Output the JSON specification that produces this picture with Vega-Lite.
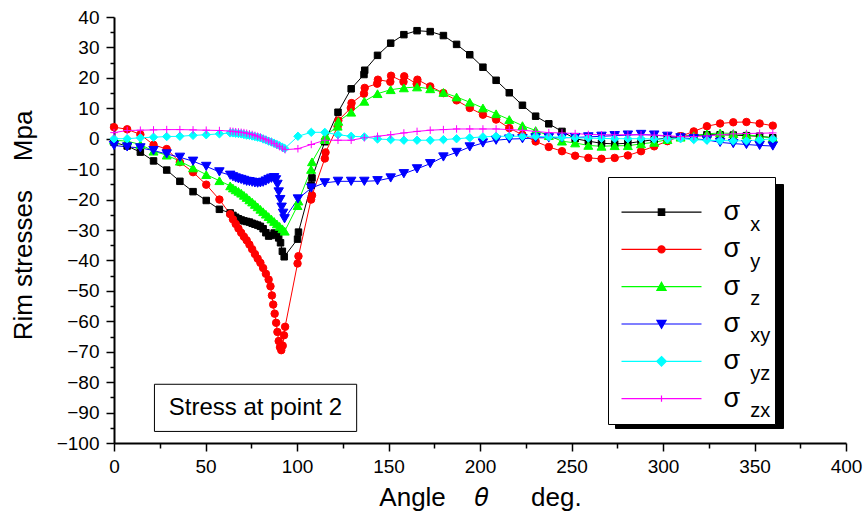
{
  "$schema": "https://vega.github.io/schema/vega-lite/v6.json",
  "width": 732,
  "height": 426,
  "autosize": {"type": "none"},
  "padding": {"left": 114, "top": 17, "right": 18, "bottom": 78},
  "background": "white",
  "config": {"view": {"stroke": null}},
  "resolve": {"scale": {"shape": "independent", "fill": "independent", "stroke": "independent", "strokeDash": "independent"}, "axis": {"x": "independent", "y": "independent"}},
  "datasets": {
    "keys": [{"k": "x"}, {"k": "y"}, {"k": "z"}, {"k": "xy"}, {"k": "yz"}, {"k": "zx"}],
    "pts": [
      {"s":"x","a":0,"v":-1.2},{"s":"x","a":7.2,"v":-2.4},{"s":"x","a":14.4,"v":-4.4},{"s":"x","a":21.6,"v":-7.3},{"s":"x","a":28.8,"v":-10.3},{"s":"x","a":36,"v":-14},{"s":"x","a":43.2,"v":-17.4},{"s":"x","a":50.4,"v":-20.3},{"s":"x","a":57.6,"v":-23.2},
      {"s":"x","a":63.5,"v":-24.4},{"s":"x","a":65,"v":-25.2},{"s":"x","a":66.5,"v":-25.8},{"s":"x","a":68,"v":-26.3},{"s":"x","a":69.5,"v":-26.7},{"s":"x","a":71,"v":-27},{"s":"x","a":72.5,"v":-27.2},{"s":"x","a":74,"v":-27.4},{"s":"x","a":75.5,"v":-27.8},{"s":"x","a":77,"v":-28.1},{"s":"x","a":78.5,"v":-28.4},{"s":"x","a":80,"v":-28.8},{"s":"x","a":81.5,"v":-29.6},{"s":"x","a":83,"v":-30.9},{"s":"x","a":84.5,"v":-32},{"s":"x","a":86,"v":-31.8},{"s":"x","a":87.5,"v":-31},{"s":"x","a":89,"v":-31.2},{"s":"x","a":90,"v":-32.6},{"s":"x","a":91,"v":-34.2},{"s":"x","a":92,"v":-37},{"s":"x","a":93,"v":-38.8},
      {"s":"x","a":100.3,"v":-33},{"s":"x","a":100.8,"v":-30.7},{"s":"x","a":107.7,"v":-15.3},{"s":"x","a":108.2,"v":-12.9},{"s":"x","a":115.2,"v":-1},{"s":"x","a":122.4,"v":8.7},{"s":"x","a":129.6,"v":16.4},{"s":"x","a":136.6,"v":21.1},{"s":"x","a":137,"v":22.5},{"s":"x","a":144,"v":27.4},{"s":"x","a":151.2,"v":31.4},{"s":"x","a":158.4,"v":34.2},{"s":"x","a":165.6,"v":35.5},{"s":"x","a":172.8,"v":35.2},{"s":"x","a":180,"v":33.9},{"s":"x","a":187.2,"v":31},{"s":"x","a":194.4,"v":27.6},{"s":"x","a":201.6,"v":23.5},{"s":"x","a":208.8,"v":19.2},{"s":"x","a":216,"v":15.1},{"s":"x","a":223.2,"v":11},{"s":"x","a":230.4,"v":7.4},{"s":"x","a":237.6,"v":4.9},{"s":"x","a":244.8,"v":2.4},{"s":"x","a":252,"v":0},{"s":"x","a":259.2,"v":-0.8},{"s":"x","a":266.4,"v":-1.5},{"s":"x","a":273.6,"v":-1.7},{"s":"x","a":280.8,"v":-1.5},{"s":"x","a":288,"v":-0.9},{"s":"x","a":295.2,"v":-0.3},{"s":"x","a":302.4,"v":0.3},{"s":"x","a":309.6,"v":0.8},{"s":"x","a":316.8,"v":1},{"s":"x","a":324,"v":1.3},{"s":"x","a":331.2,"v":1.3},{"s":"x","a":338.4,"v":1.2},{"s":"x","a":345.6,"v":1},{"s":"x","a":352.8,"v":0.8},{"s":"x","a":360,"v":0.3},

      {"s":"y","a":0,"v":3.8},{"s":"y","a":7.2,"v":3.1},{"s":"y","a":14.4,"v":1.4},{"s":"y","a":21.6,"v":-2},{"s":"y","a":28.8,"v":-3.4},{"s":"y","a":36,"v":-7.7},{"s":"y","a":43.2,"v":-11},{"s":"y","a":50.4,"v":-15.1},{"s":"y","a":57.6,"v":-20},
      {"s":"y","a":63.5,"v":-24.8},{"s":"y","a":65,"v":-26.5},{"s":"y","a":66.5,"v":-28},{"s":"y","a":68,"v":-29.5},{"s":"y","a":69.5,"v":-30.9},{"s":"y","a":71,"v":-32.2},{"s":"y","a":72.5,"v":-33.4},{"s":"y","a":74,"v":-34.8},{"s":"y","a":75.5,"v":-36.3},{"s":"y","a":77,"v":-37.9},{"s":"y","a":78.5,"v":-39.4},{"s":"y","a":80,"v":-40.8},{"s":"y","a":81.5,"v":-42.5},{"s":"y","a":83,"v":-44.4},{"s":"y","a":84.5,"v":-46.3},{"s":"y","a":85.5,"v":-48.5},{"s":"y","a":86.3,"v":-51.5},{"s":"y","a":87,"v":-54.5},{"s":"y","a":87.8,"v":-57.5},{"s":"y","a":88.6,"v":-60.5},{"s":"y","a":89.3,"v":-63.5},{"s":"y","a":90,"v":-66.5},{"s":"y","a":90.7,"v":-68.5},{"s":"y","a":91.4,"v":-69.5},{"s":"y","a":92.2,"v":-68},{"s":"y","a":92.9,"v":-64.6},{"s":"y","a":93.5,"v":-61.8},
      {"s":"y","a":100.3,"v":-41},{"s":"y","a":100.8,"v":-38.6},{"s":"y","a":107.7,"v":-20},{"s":"y","a":108.2,"v":-18.6},{"s":"y","a":115.2,"v":-6.5},{"s":"y","a":115.6,"v":-4.5},{"s":"y","a":122.2,"v":4},{"s":"y","a":122.6,"v":6},{"s":"y","a":129.4,"v":10.1},{"s":"y","a":129.8,"v":11.7},{"s":"y","a":136.6,"v":14.8},{"s":"y","a":137,"v":16.7},{"s":"y","a":143.8,"v":18.1},{"s":"y","a":144.2,"v":19.4},{"s":"y","a":151,"v":18.7},{"s":"y","a":151.4,"v":20.7},{"s":"y","a":158.2,"v":18.7},{"s":"y","a":158.6,"v":20.5},{"s":"y","a":165.4,"v":18},{"s":"y","a":165.8,"v":19.4},{"s":"y","a":172.8,"v":17.2},{"s":"y","a":180,"v":15},{"s":"y","a":187.2,"v":12.6},{"s":"y","a":194.4,"v":10.1},{"s":"y","a":201.6,"v":7.9},{"s":"y","a":208.8,"v":6.3},{"s":"y","a":216,"v":3.5},{"s":"y","a":223.2,"v":1.3},{"s":"y","a":230.4,"v":-0.9},{"s":"y","a":237.6,"v":-2.7},{"s":"y","a":244.8,"v":-4.1},{"s":"y","a":252,"v":-5.6},{"s":"y","a":259.2,"v":-6.3},{"s":"y","a":266.4,"v":-6.6},{"s":"y","a":273.6,"v":-6.3},{"s":"y","a":280.8,"v":-5.5},{"s":"y","a":288,"v":-4.1},{"s":"y","a":295.2,"v":-2.5},{"s":"y","a":302.4,"v":-0.8},{"s":"y","a":309.6,"v":0.8},{"s":"y","a":316.8,"v":2.4},{"s":"y","a":324,"v":4.1},{"s":"y","a":331.2,"v":5},{"s":"y","a":338.4,"v":5.4},{"s":"y","a":345.6,"v":5.5},{"s":"y","a":352.8,"v":5},{"s":"y","a":360,"v":4.3},

      {"s":"z","a":0,"v":-0.5},{"s":"z","a":7.2,"v":-0.8},{"s":"z","a":14.4,"v":-1.9},{"s":"z","a":21.6,"v":-4.1},{"s":"z","a":28.8,"v":-5.4},{"s":"z","a":36,"v":-7.4},{"s":"z","a":43.2,"v":-9.6},{"s":"z","a":50.4,"v":-11.8},{"s":"z","a":57.6,"v":-13.8},
      {"s":"z","a":63.5,"v":-15.5},{"s":"z","a":65,"v":-16.2},{"s":"z","a":66.5,"v":-16.8},{"s":"z","a":68,"v":-17.3},{"s":"z","a":69.5,"v":-17.9},{"s":"z","a":71,"v":-18.6},{"s":"z","a":72.5,"v":-19.3},{"s":"z","a":74,"v":-20.1},{"s":"z","a":75.5,"v":-20.8},{"s":"z","a":77,"v":-21.6},{"s":"z","a":78.5,"v":-22.4},{"s":"z","a":80,"v":-23.2},{"s":"z","a":81.5,"v":-24},{"s":"z","a":83,"v":-24.8},{"s":"z","a":84.5,"v":-25.6},{"s":"z","a":86,"v":-26.4},{"s":"z","a":87.5,"v":-27.2},{"s":"z","a":89,"v":-28},{"s":"z","a":90.5,"v":-28.8},{"s":"z","a":92,"v":-29.6},{"s":"z","a":93.3,"v":-30.4},
      {"s":"z","a":100.3,"v":-22},{"s":"z","a":100.8,"v":-20.5},{"s":"z","a":107.7,"v":-10.1},{"s":"z","a":108.2,"v":-7.6},{"s":"z","a":115.2,"v":-0.3},{"s":"z","a":115.6,"v":1},{"s":"z","a":122.2,"v":4.1},{"s":"z","a":122.6,"v":5.7},{"s":"z","a":129.6,"v":8.7},{"s":"z","a":136.8,"v":12.3},{"s":"z","a":144,"v":14.8},{"s":"z","a":151.2,"v":16.1},{"s":"z","a":158.4,"v":16.7},{"s":"z","a":165.6,"v":17},{"s":"z","a":172.8,"v":16.4},{"s":"z","a":180,"v":15.2},{"s":"z","a":187.2,"v":13.7},{"s":"z","a":194.4,"v":12},{"s":"z","a":201.6,"v":10.1},{"s":"z","a":208.8,"v":8.2},{"s":"z","a":216,"v":6.3},{"s":"z","a":223.2,"v":4.3},{"s":"z","a":230.4,"v":2.7},{"s":"z","a":237.6,"v":1},{"s":"z","a":244.8,"v":-0.8},{"s":"z","a":252,"v":-1.4},{"s":"z","a":259.2,"v":-2.2},{"s":"z","a":266.4,"v":-2.5},{"s":"z","a":273.6,"v":-2.3},{"s":"z","a":280.8,"v":-2.3},{"s":"z","a":288,"v":-1.7},{"s":"z","a":295.2,"v":-1.2},{"s":"z","a":302.4,"v":-0.3},{"s":"z","a":309.6,"v":0.5},{"s":"z","a":316.8,"v":1},{"s":"z","a":324,"v":1.6},{"s":"z","a":331.2,"v":1.9},{"s":"z","a":338.4,"v":1.7},{"s":"z","a":345.6,"v":1.3},{"s":"z","a":352.8,"v":0.8},{"s":"z","a":360,"v":0.3},

      {"s":"xy","a":0,"v":-2.2},{"s":"xy","a":7.2,"v":-2.7},{"s":"xy","a":14.4,"v":-3},{"s":"xy","a":21.6,"v":-3.9},{"s":"xy","a":28.8,"v":-5},{"s":"xy","a":36,"v":-6.1},{"s":"xy","a":43.2,"v":-7.4},{"s":"xy","a":50.4,"v":-9.1},{"s":"xy","a":57.6,"v":-10.9},
      {"s":"xy","a":63.5,"v":-12},{"s":"xy","a":65,"v":-12.5},{"s":"xy","a":66.5,"v":-12.9},{"s":"xy","a":68,"v":-13.2},{"s":"xy","a":69.5,"v":-13.4},{"s":"xy","a":71,"v":-13.7},{"s":"xy","a":72.5,"v":-14},{"s":"xy","a":74,"v":-14.1},{"s":"xy","a":75.5,"v":-14.3},{"s":"xy","a":77,"v":-14.5},{"s":"xy","a":78.5,"v":-14.6},{"s":"xy","a":80,"v":-14.5},{"s":"xy","a":81.5,"v":-14.3},{"s":"xy","a":83,"v":-13.9},{"s":"xy","a":84.5,"v":-13.4},{"s":"xy","a":86,"v":-13},{"s":"xy","a":87.5,"v":-12.8},{"s":"xy","a":88.5,"v":-13.5},{"s":"xy","a":89.3,"v":-15},{"s":"xy","a":90,"v":-17.5},{"s":"xy","a":90.8,"v":-20},{"s":"xy","a":91.6,"v":-22.5},{"s":"xy","a":92.4,"v":-24.5},{"s":"xy","a":93.2,"v":-26.3},
      {"s":"xy","a":100.5,"v":-19.8},{"s":"xy","a":107.8,"v":-16.2},{"s":"xy","a":115.2,"v":-14.5},{"s":"xy","a":122.4,"v":-14},{"s":"xy","a":129.6,"v":-14},{"s":"xy","a":136.8,"v":-14},{"s":"xy","a":144,"v":-13.8},{"s":"xy","a":151.2,"v":-12.9},{"s":"xy","a":158.4,"v":-11.5},{"s":"xy","a":165.6,"v":-9.9},{"s":"xy","a":172.8,"v":-8.2},{"s":"xy","a":180,"v":-6},{"s":"xy","a":187.2,"v":-4.5},{"s":"xy","a":194.4,"v":-2.7},{"s":"xy","a":201.6,"v":-1.4},{"s":"xy","a":208.8,"v":-0.5},{"s":"xy","a":216,"v":-0.1},{"s":"xy","a":223.2,"v":0},{"s":"xy","a":230.4,"v":0.3},{"s":"xy","a":237.6,"v":0.3},{"s":"xy","a":244.8,"v":0.3},{"s":"xy","a":252,"v":0.4},{"s":"xy","a":259.2,"v":0.6},{"s":"xy","a":266.4,"v":0.8},{"s":"xy","a":273.6,"v":1},{"s":"xy","a":280.8,"v":1.2},{"s":"xy","a":288,"v":1.4},{"s":"xy","a":295.2,"v":1.2},{"s":"xy","a":302.4,"v":0.8},{"s":"xy","a":309.6,"v":0.3},{"s":"xy","a":316.8,"v":0},{"s":"xy","a":324,"v":-0.4},{"s":"xy","a":331.2,"v":-1.2},{"s":"xy","a":338.4,"v":-1.6},{"s":"xy","a":345.6,"v":-1.9},{"s":"xy","a":352.8,"v":-2.2},{"s":"xy","a":360,"v":-2.4},

      {"s":"yz","a":0,"v":0},{"s":"yz","a":7.2,"v":0},{"s":"yz","a":14.4,"v":0.3},{"s":"yz","a":21.6,"v":0.5},{"s":"yz","a":28.8,"v":0.7},{"s":"yz","a":36,"v":0.8},{"s":"yz","a":43.2,"v":1.1},{"s":"yz","a":50.4,"v":1.3},{"s":"yz","a":57.6,"v":1.6},
      {"s":"yz","a":63.5,"v":1.9},{"s":"yz","a":65,"v":1.9},{"s":"yz","a":66.5,"v":1.8},{"s":"yz","a":68,"v":1.7},{"s":"yz","a":69.5,"v":1.6},{"s":"yz","a":71,"v":1.4},{"s":"yz","a":72.5,"v":1.2},{"s":"yz","a":74,"v":1.1},{"s":"yz","a":75.5,"v":0.9},{"s":"yz","a":77,"v":0.7},{"s":"yz","a":78.5,"v":0.5},{"s":"yz","a":80,"v":0.3},{"s":"yz","a":81.5,"v":-0.1},{"s":"yz","a":83,"v":-0.4},{"s":"yz","a":84.5,"v":-0.8},{"s":"yz","a":86,"v":-1.1},{"s":"yz","a":87.5,"v":-1.5},{"s":"yz","a":89,"v":-1.9},{"s":"yz","a":90.5,"v":-2.3},{"s":"yz","a":92,"v":-2.8},{"s":"yz","a":93.3,"v":-3.2},
      {"s":"yz","a":100.5,"v":0.8},{"s":"yz","a":107.8,"v":2.1},{"s":"yz","a":115.2,"v":2.1},{"s":"yz","a":122.4,"v":1.3},{"s":"yz","a":129.6,"v":0.8},{"s":"yz","a":136.8,"v":0.6},{"s":"yz","a":144,"v":-0.1},{"s":"yz","a":151.2,"v":-0.3},{"s":"yz","a":158.4,"v":-0.5},{"s":"yz","a":165.6,"v":-0.5},{"s":"yz","a":172.8,"v":-0.5},{"s":"yz","a":180,"v":-0.3},{"s":"yz","a":187.2,"v":0},{"s":"yz","a":194.4,"v":0.3},{"s":"yz","a":201.6,"v":0.6},{"s":"yz","a":208.8,"v":0.8},{"s":"yz","a":216,"v":0.8},{"s":"yz","a":223.2,"v":0.8},{"s":"yz","a":230.4,"v":0.8},{"s":"yz","a":237.6,"v":0.6},{"s":"yz","a":244.8,"v":0.5},{"s":"yz","a":252,"v":0.3},{"s":"yz","a":259.2,"v":0.2},{"s":"yz","a":266.4,"v":0.1},{"s":"yz","a":273.6,"v":0},{"s":"yz","a":280.8,"v":0},{"s":"yz","a":288,"v":0},{"s":"yz","a":295.2,"v":-0.1},{"s":"yz","a":302.4,"v":-0.1},{"s":"yz","a":309.6,"v":0},{"s":"yz","a":316.8,"v":-0.3},{"s":"yz","a":324,"v":-0.5},{"s":"yz","a":331.2,"v":-0.6},{"s":"yz","a":338.4,"v":-0.7},{"s":"yz","a":345.6,"v":-0.7},{"s":"yz","a":352.8,"v":-0.4},{"s":"yz","a":360,"v":0},

      {"s":"zx","a":0,"v":2},{"s":"zx","a":7.2,"v":2.7},{"s":"zx","a":14.4,"v":2.8},{"s":"zx","a":21.6,"v":2.9},{"s":"zx","a":28.8,"v":3},{"s":"zx","a":36,"v":3},{"s":"zx","a":43.2,"v":2.9},{"s":"zx","a":50.4,"v":2.8},{"s":"zx","a":57.6,"v":2.7},
      {"s":"zx","a":63.5,"v":2.5},{"s":"zx","a":65,"v":2.4},{"s":"zx","a":66.5,"v":2.3},{"s":"zx","a":68,"v":2.2},{"s":"zx","a":69.5,"v":2.1},{"s":"zx","a":71,"v":2},{"s":"zx","a":72.5,"v":1.8},{"s":"zx","a":74,"v":1.6},{"s":"zx","a":75.5,"v":1.4},{"s":"zx","a":77,"v":1.1},{"s":"zx","a":78.5,"v":0.8},{"s":"zx","a":80,"v":0.5},{"s":"zx","a":81.5,"v":0.1},{"s":"zx","a":83,"v":-0.3},{"s":"zx","a":84.5,"v":-0.7},{"s":"zx","a":86,"v":-1.1},{"s":"zx","a":87.5,"v":-1.6},{"s":"zx","a":89,"v":-2.1},{"s":"zx","a":90.5,"v":-2.6},{"s":"zx","a":92,"v":-3.1},{"s":"zx","a":93.5,"v":-3.6},
      {"s":"zx","a":100.5,"v":-3.3},{"s":"zx","a":107.8,"v":-1.9},{"s":"zx","a":115.2,"v":-0.5},{"s":"zx","a":122.4,"v":-0.5},{"s":"zx","a":129.6,"v":-0.5},{"s":"zx","a":136.8,"v":0.3},{"s":"zx","a":144,"v":0.8},{"s":"zx","a":151.2,"v":1.3},{"s":"zx","a":158.4,"v":1.9},{"s":"zx","a":165.6,"v":2.4},{"s":"zx","a":172.8,"v":2.8},{"s":"zx","a":180,"v":3},{"s":"zx","a":187.2,"v":3.2},{"s":"zx","a":194.4,"v":3.2},{"s":"zx","a":201.6,"v":3.2},{"s":"zx","a":208.8,"v":3.2},{"s":"zx","a":216,"v":3},{"s":"zx","a":223.2,"v":2.8},{"s":"zx","a":230.4,"v":2.4},{"s":"zx","a":237.6,"v":2},{"s":"zx","a":244.8,"v":1.9},{"s":"zx","a":252,"v":1.7},{"s":"zx","a":259.2,"v":1.4},{"s":"zx","a":266.4,"v":1.3},{"s":"zx","a":273.6,"v":1.3},{"s":"zx","a":280.8,"v":1.3},{"s":"zx","a":288,"v":1.3},{"s":"zx","a":295.2,"v":1.2},{"s":"zx","a":302.4,"v":1},{"s":"zx","a":309.6,"v":0.7},{"s":"zx","a":316.8,"v":0.7},{"s":"zx","a":324,"v":0.9},{"s":"zx","a":331.2,"v":1.3},{"s":"zx","a":338.4,"v":1.6},{"s":"zx","a":345.6,"v":1.7},{"s":"zx","a":352.8,"v":1.8},{"s":"zx","a":360,"v":1.9}
    ]
  },
  "layer": [
    {
      "data": {"name": "keys"},
      "mark": {"type": "point", "opacity": 0},
      "encoding": {
        "color": {
          "field": "k", "type": "nominal",
          "scale": {"domain": ["zx", "yz", "xy", "z", "y", "x"], "range": ["black", "black", "black", "black", "black", "black"]},
          "legend": {
            "orient": "none", "legendX": 501, "legendY": 167, "direction": "vertical", "zindex": 1,
            "title": null,
            "padding": 10, "fillColor": "black", "strokeColor": "black",
            "symbolSize": 21609, "symbolType": "M-1,0H1", "symbolStrokeWidth": 1, "symbolOffset": 0, "symbolOpacity": 0,
            "labelFontSize": 27, "labelColor": "black", "labelOffset": 0, "labelBaseline": "middle",
            "labelExpr": "''",
            "clipHeight": 30, "rowPadding": 8.8
          }
        }
      }
    },
    {
      "data": {"name": "pts"},
      "mark": {"type": "line", "strokeWidth": 1},
      "encoding": {
        "x": {
          "field": "a", "type": "quantitative",
          "scale": {"domain": [0, 400], "nice": false, "zero": false},
          "axis": {
            "orient": "bottom",
            "values": [0, 50, 100, 150, 200, 250, 300, 350, 400],
            "tickSize": 8,
            "grid": false, "labelOverlap": false, "labelFlush": false, "labelBound": false,
            "domainColor": "black", "domainWidth": 2, "tickColor": "black", "tickWidth": 1.5,
            "labelFontSize": 19, "labelColor": "black", "labelPadding": 6,
            "title": "Angle\u00a0\u00a0\u00a0\u00a0\ud835\udf03\u00a0\u00a0\u00a0\u00a0\u00a0\u00a0deg.",
            "titleFontSize": 26, "titleFontWeight": "normal", "titleColor": "black", "titlePadding": 8
          }
        },
        "y": {
          "field": "v", "type": "quantitative",
          "scale": {"domain": [-100, 40], "nice": false, "zero": false},
          "axis": {
            "orient": "left",
            "values": [-100, -90, -80, -70, -60, -50, -40, -30, -20, -10, 0, 10, 20, 30, 40],
            "tickSize": 8,
            "grid": false, "labelOverlap": false, "labelFlush": false, "labelBound": false,
            "domainColor": "black", "domainWidth": 2, "tickColor": "black", "tickWidth": 1.5,
            "labelFontSize": 19, "labelColor": "black", "labelPadding": 7,
            "title": "Rim stresses\u00a0\u00a0\u00a0\u00a0Mpa",
            "titleFontSize": 26, "titleFontWeight": "normal", "titleColor": "black", "titlePadding": 20, "titleY": 208
          }
        },
        "stroke": {
          "field": "s", "type": "nominal",
          "scale": {"domain": ["x", "y", "z", "xy", "yz", "zx"], "range": ["#000000", "#ff0000", "#00ff00", "#0000ff", "#00ffff", "#ff00ff"]},
          "legend": null
        }
      }
    },
    {
      "data": {"name": "pts"},
      "mark": {"type": "point", "filled": true, "strokeWidth": 1, "opacity": 1},
      "encoding": {
        "x": {
          "field": "a", "type": "quantitative",
          "axis": {
            "orient": "bottom", "values": [25, 75, 125, 175, 225, 275, 325, 375],
            "tickSize": 5, "tickColor": "black", "tickWidth": 1.5, "labels": false, "domain": false, "grid": false, "title": null
          }
        },
        "y": {
          "field": "v", "type": "quantitative",
          "axis": {
            "orient": "left", "values": [-95, -85, -75, -65, -55, -45, -35, -25, -15, -5, 5, 15, 25, 35],
            "tickSize": 4, "tickColor": "black", "tickWidth": 1.5, "labels": false, "domain": false, "grid": false, "title": null
          }
        },
        "stroke": {
          "field": "s", "type": "nominal",
          "scale": {"domain": ["x", "y", "z", "xy", "yz", "zx"], "range": ["#000000", "#ff0000", "#00ff00", "#0000ff", "#00ffff", "#ff00ff"]},
          "legend": null
        },
        "fill": {
          "field": "s", "type": "nominal",
          "scale": {"domain": ["x", "y", "z", "xy", "yz", "zx"], "range": ["#000000", "#ff0000", "#00ff00", "#0000ff", "#00ffff", "#ff00ff"]},
          "legend": null
        },
        "shape": {
          "field": "s", "type": "nominal",
          "scale": {"domain": ["x", "y", "z", "xy", "yz", "zx"], "range": ["square", "circle", "triangle-up", "triangle-down", "diamond", "M-1,0H1M0,-1V1"]},
          "legend": null
        },
        "size": {
          "field": "s", "type": "nominal",
          "scale": {"type": "ordinal", "domain": ["x", "y", "z", "xy", "yz", "zx"], "range": [42, 56, 80, 90, 70, 56]},
          "legend": null
        }
      }
    },
    {
      "data": {"name": "keys"},
      "mark": {"type": "point", "filled": true, "opacity": 0},
      "encoding": {
        "shape": {
          "field": "k", "type": "nominal",
          "scale": {
            "domain": ["x", "y", "z", "xy", "yz", "zx"],
            "range": [
              "M-1,0H1M-0.08,-0.08H0.08V0.08H-0.08Z",
              "M-1,0H1M0.09,0A0.09,0.09,0,1,1,-0.09,0A0.09,0.09,0,1,1,0.09,0Z",
              "M-1,0H1M0,-0.11L0.115,0.09L-0.115,0.09Z",
              "M-1,0H1M0,0.11L0.115,-0.09L-0.115,-0.09Z",
              "M-1,0H1M0,-0.12L0.12,0L0,0.12L-0.12,0Z",
              "M-1,0H1M0,-0.08V0.08"
            ]
          },
          "legend": {
            "orient": "none", "legendX": 494, "legendY": 160, "direction": "vertical", "zindex": 2,
            "title": "————————————————————————", "titleFontSize": 6.1, "titlePadding": 4, "titleColor": "white",
            "padding": 10, "fillColor": "white", "strokeColor": "black",
            "symbolSize": 6400, "symbolStrokeWidth": 1.2, "symbolOffset": 2.5, "symbolOpacity": 1,
            "labelFontSize": 27, "labelColor": "black", "labelOffset": 21, "labelBaseline": "middle",
            "labelExpr": "'σ'",
            "clipHeight": 30, "rowPadding": 7.3
          }
        },
        "fill": {
          "field": "k", "type": "nominal",
          "scale": {"domain": ["x", "y", "z", "xy", "yz", "zx"], "range": ["#000000", "#ff0000", "#00ff00", "#0000ff", "#00ffff", "#ff00ff"]},
          "legend": {
            "orient": "none", "legendX": 494, "legendY": 160, "direction": "vertical", "zindex": 2,
            "title": "————————————————————————", "titleFontSize": 6.1, "titlePadding": 4, "titleColor": "white",
            "padding": 10, "fillColor": "white", "strokeColor": "black",
            "symbolSize": 6400, "symbolStrokeWidth": 1.2, "symbolOffset": 2.5, "symbolOpacity": 1,
            "labelFontSize": 27, "labelColor": "black", "labelOffset": 21, "labelBaseline": "middle",
            "labelExpr": "'σ'",
            "clipHeight": 30, "rowPadding": 7.3
          }
        },
        "stroke": {
          "field": "k", "type": "nominal",
          "scale": {"domain": ["x", "y", "z", "xy", "yz", "zx"], "range": ["#000000", "#ff0000", "#00ff00", "#0000ff", "#00ffff", "#ff00ff"]},
          "legend": {
            "orient": "none", "legendX": 494, "legendY": 160, "direction": "vertical", "zindex": 2,
            "title": "————————————————————————", "titleFontSize": 6.1, "titlePadding": 4, "titleColor": "white",
            "padding": 10, "fillColor": "white", "strokeColor": "black",
            "symbolSize": 6400, "symbolStrokeWidth": 1.2, "symbolOffset": 2.5, "symbolOpacity": 1,
            "labelFontSize": 27, "labelColor": "black", "labelOffset": 21, "labelBaseline": "middle",
            "labelExpr": "'σ'",
            "clipHeight": 30, "rowPadding": 7.3
          }
        }
      }
    },
    {
      "data": {"name": "keys"},
      "mark": {"type": "point", "opacity": 0},
      "encoding": {
        "strokeDash": {
          "field": "k", "type": "nominal",
          "scale": {"domain": ["x", "y", "z", "xy", "yz", "zx"], "range": [[1, 0], [1, 0], [1, 0], [1, 0], [1, 0], [1, 0]]},
          "legend": {
            "orient": "none", "legendX": 494, "legendY": 182.5, "direction": "vertical", "zindex": 3,
            "title": null,
            "padding": 10,
            "symbolSize": 6400, "symbolType": "M-1,0H1", "symbolStrokeWidth": 1.2, "symbolOffset": 2.5, "symbolOpacity": 0,
            "labelFontSize": 20, "labelColor": "black", "labelOpacity": 1, "labelOffset": 47.7, "labelBaseline": "middle",
            "clipHeight": 30, "rowPadding": 7.3
          }
        }
      }
    },
    {
      "data": {"values": [{}]},
      "mark": {"type": "rect", "fill": "white", "stroke": "black", "strokeWidth": 1},
      "encoding": {
        "x": {"datum": 22.1, "axis": null}, "x2": {"datum": 132.6},
        "y": {"datum": -80.7, "axis": null}, "y2": {"datum": -96.2}
      }
    },
    {
      "data": {"values": [{}]},
      "mark": {"type": "text", "text": "Stress at point 2", "fontSize": 24, "color": "black", "align": "center", "baseline": "middle"},
      "encoding": {
        "x": {"datum": 77.3, "axis": null}, "y": {"datum": -88.5, "axis": null}
      }
    }
  ]
}
